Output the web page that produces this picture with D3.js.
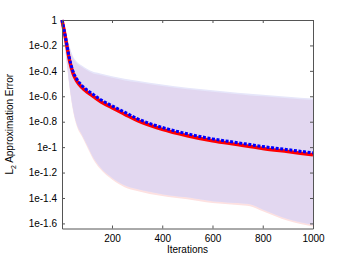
<!DOCTYPE html>
<html>
<head>
<meta charset="utf-8">
<script src="https://cdn.jsdelivr.net/npm/d3@7"></script>
<style>
  body { margin: 0; background: #fff; }
  svg { display: block; font-family: "Liberation Sans", Arial, sans-serif; }
</style>
</head>
<body>
<svg id="chart" width="347" height="262"></svg>
<script>
var iters = [1, 10, 20, 30, 45, 60, 80, 100, 125, 150, 200, 250, 300, 400, 500, 600, 700, 750, 800, 900, 1000];

// all values are log10 of the L2 approximation error
var redMean  = [0, -0.09, -0.20, -0.31, -0.42, -0.48, -0.53, -0.565, -0.60, -0.635, -0.69, -0.74, -0.79, -0.86, -0.91, -0.95, -0.98, -0.995, -1.01, -1.035, -1.06];
var blueMean = [0, -0.085, -0.19, -0.295, -0.405, -0.465, -0.515, -0.55, -0.585, -0.62, -0.675, -0.725, -0.775, -0.845, -0.895, -0.935, -0.965, -0.98, -0.995, -1.02, -1.045];
var redHi    = [0, -0.07, -0.13, -0.21, -0.30, -0.34, -0.37, -0.395, -0.42, -0.43, -0.455, -0.475, -0.49, -0.52, -0.545, -0.565, -0.585, -0.593, -0.60, -0.615, -0.63];
var blueHi   = [0, -0.06, -0.12, -0.198, -0.288, -0.328, -0.358, -0.383, -0.408, -0.418, -0.443, -0.463, -0.478, -0.508, -0.533, -0.553, -0.573, -0.581, -0.588, -0.603, -0.618];
var blueLo   = [0, -0.15, -0.33, -0.50, -0.70, -0.82, -0.90, -0.98, -1.08, -1.15, -1.24, -1.30, -1.33, -1.37, -1.395, -1.425, -1.44, -1.45, -1.49, -1.565, -1.61];
var redLo    = [0, -0.16, -0.345, -0.515, -0.715, -0.835, -0.915, -0.995, -1.095, -1.165, -1.255, -1.315, -1.345, -1.385, -1.41, -1.44, -1.455, -1.465, -1.505, -1.58, -1.625];

var xTicks = [200, 400, 600, 800, 1000];
var yTickExps = [0, -0.2, -0.4, -0.6, -0.8, -1, -1.2, -1.4, -1.6];
var yTickLabels = ["1", "1e-0.2", "1e-0.4", "1e-0.6", "1e-0.8", "1e-1", "1e-1.2", "1e-1.4", "1e-1.6"];

chart();

function chart() {
    var svg = d3.select("#chart"),
        margin = {top: 20, left: 62, bottom: 33.5, right: 34},
        width = +svg.attr("width"),
        height = +svg.attr("height");

    var x = d3.scaleLinear()
        .domain([1, 1000])
        .range([margin.left, width - margin.right]);

    // log axis, labels written as powers of ten
    var y = d3.scaleLog()
        .domain([Math.pow(10, -1.64), 1])
        .range([height - margin.bottom, margin.top]);

    var pts = function(arr) { return iters.map((it, i) => ({it: it, v: Math.pow(10, arr[i])})); };
    var band = function(lo, hi) {
        return iters.map((it, i) => ({it: it, lo: Math.pow(10, lo[i]), hi: Math.pow(10, hi[i])}));
    };

    var area = d3.area()
        .x(d => x(d.it))
        .y0(d => y(d.lo))
        .y1(d => y(d.hi))
        .curve(d3.curveMonotoneX);

    var line = d3.line()
        .x(d => x(d.it))
        .y(d => y(d.v))
        .curve(d3.curveMonotoneX);

    var plot = svg.append("g");

    // shaded spreads: red, blue, and the overlap where they share
    plot.append("path").datum(band(redLo, redHi)).attr("d", area).attr("fill", "#fde1e1");
    plot.append("path").datum(band(blueLo, blueHi)).attr("fill", "#e6e6fa").attr("d", area);
    plot.append("path").datum(band(blueLo, redHi)).attr("fill", "#e2d7f0").attr("d", area);

    // mean curves
    plot.append("path").datum(pts(redMean)).attr("d", line)
        .attr("fill", "none").attr("stroke", "#ff0000").attr("stroke-width", 3.5);
    plot.append("path").datum(pts(blueMean)).attr("d", line)
        .attr("fill", "none").attr("stroke", "#0000ff").attr("stroke-width", 3)
        .attr("stroke-dasharray", "3,1.6");

    var axisCol = "#555";
    var x0 = margin.left, x1 = width - margin.right,
        yb = height - margin.bottom, yt = margin.top;

    // box, with ticks pointing inside on all four sides (matlab style)
    var xAxis = svg.append("g").attr("transform", `translate(0,${yb})`)
        .call(d3.axisBottom(x).tickValues(xTicks).tickFormat(d3.format("d"))
            .tickSize(-3).tickPadding(6).tickSizeOuter(0));
    var xTop = svg.append("g").attr("transform", `translate(0,${yt})`)
        .call(d3.axisTop(x).tickValues(xTicks).tickSize(-3).tickFormat("").tickSizeOuter(0));
    var yAxis = svg.append("g").attr("transform", `translate(${x0},0)`)
        .call(d3.axisLeft(y).tickValues(yTickExps.map(e => Math.pow(10, e)))
            .tickFormat((d, i) => yTickLabels[i]).tickSize(-3).tickPadding(5).tickSizeOuter(0));
    var yRight = svg.append("g").attr("transform", `translate(${x1},0)`)
        .call(d3.axisRight(y).tickValues(yTickExps.map(e => Math.pow(10, e)))
            .tickFormat("").tickSize(-3).tickSizeOuter(0));

    svg.selectAll(".domain").attr("stroke", axisCol);
    svg.selectAll(".tick line").attr("stroke", axisCol);
    svg.selectAll(".tick text").attr("fill", "#000").style("font-size", "10px")
        .style("font-family", "'Liberation Sans', Arial, sans-serif");

    svg.append("text")
        .attr("x", (x0 + x1) / 2).attr("y", 253)
        .attr("text-anchor", "middle")
        .style("font-size", "10px")
        .text("Iterations");

    var ylab = svg.append("text")
        .attr("transform", `translate(13,${(yt + yb) / 2}) rotate(-90)`)
        .attr("text-anchor", "middle")
        .style("font-size", "10px");
    ylab.append("tspan").text("L");
    ylab.append("tspan").attr("dy", 3).style("font-size", "7px").text("2");
    ylab.append("tspan").attr("dy", -3).text(" Approximation Error");
}
</script>
</body>
</html>
